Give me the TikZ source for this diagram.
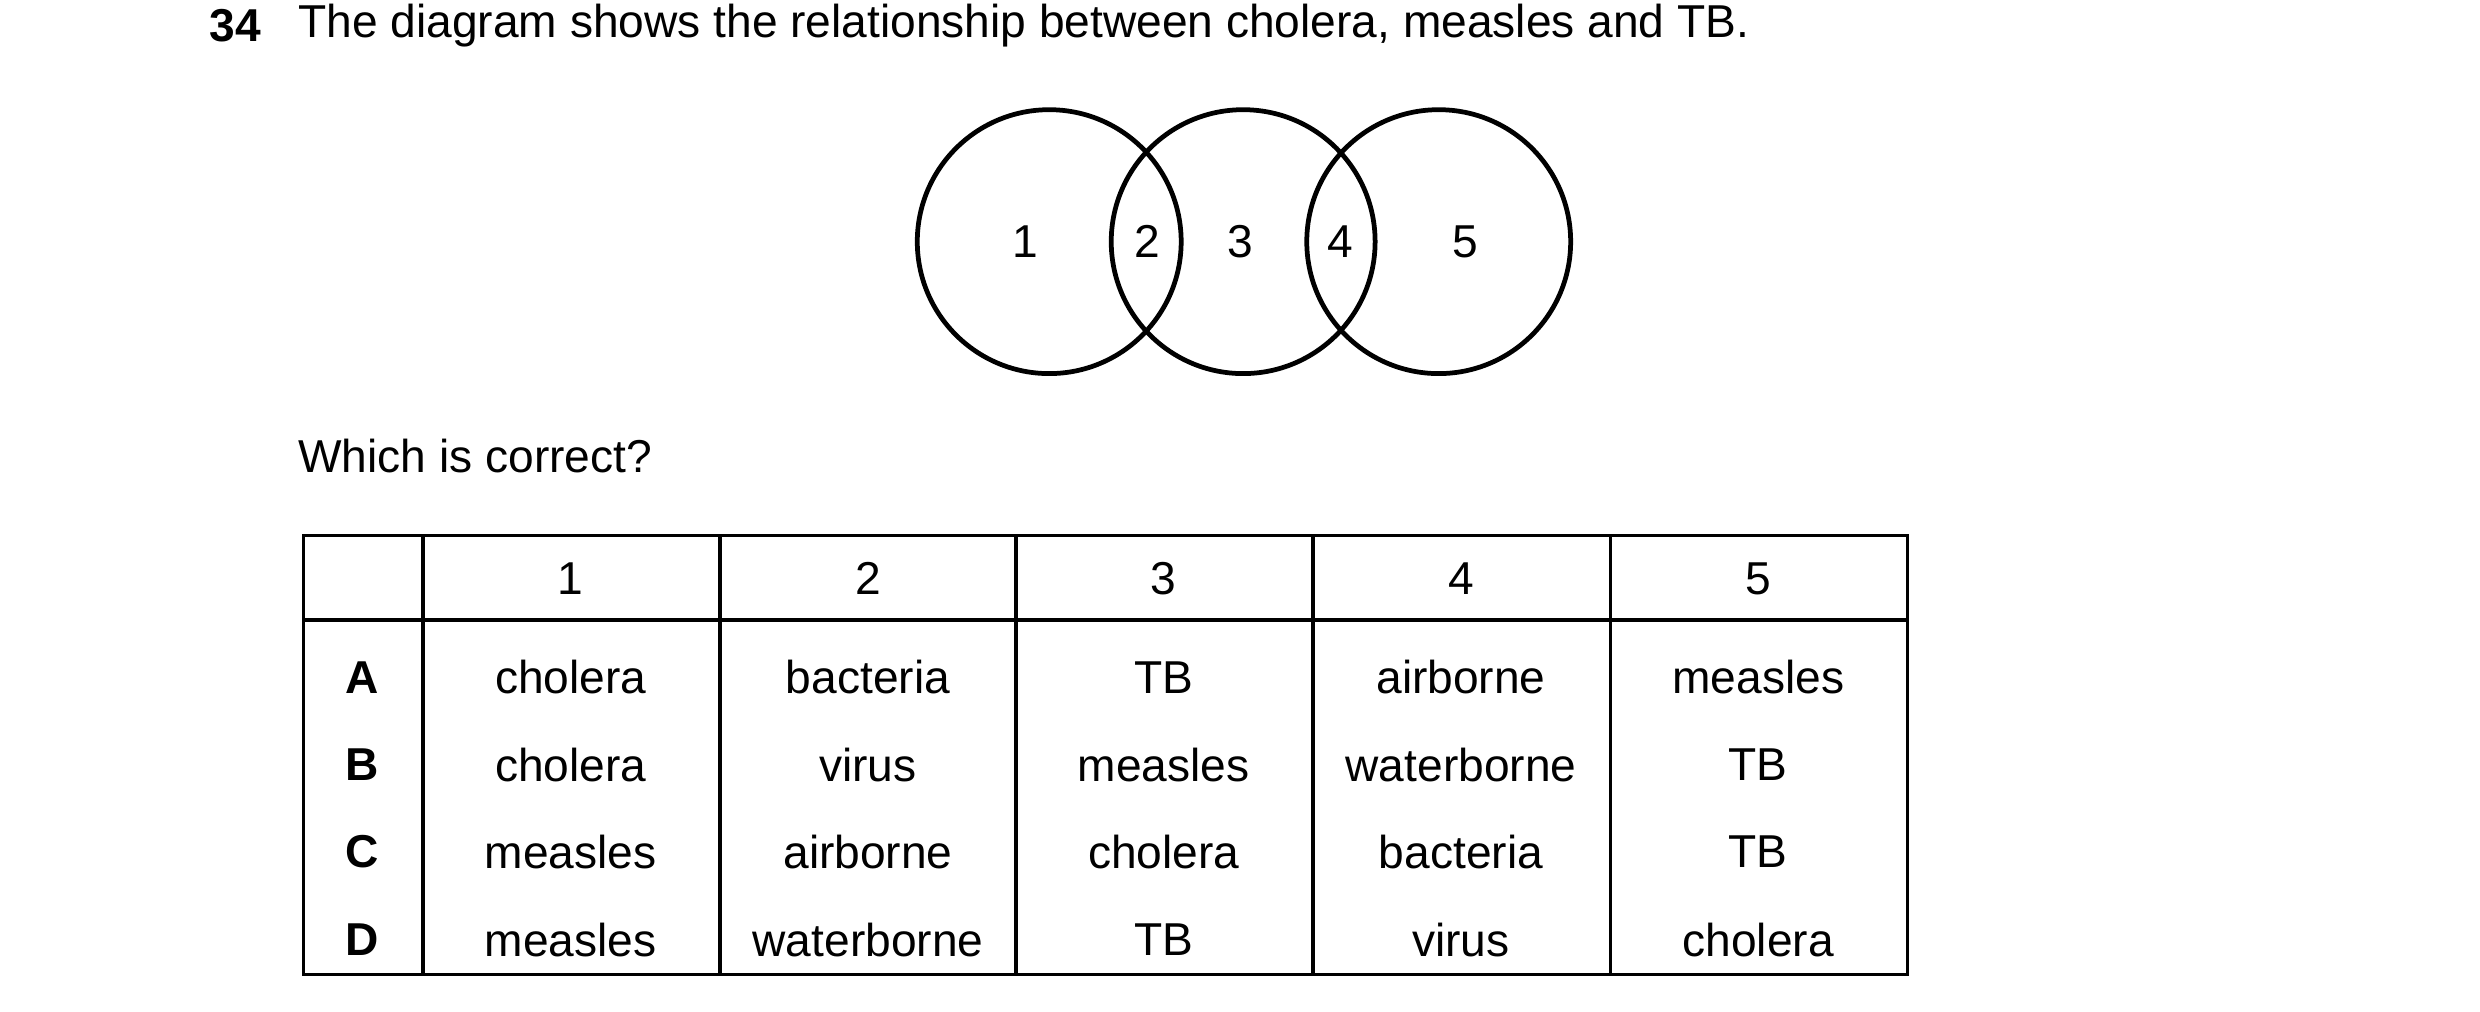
\documentclass[tikz,border=0pt]{standalone}
\usepackage{fontspec}
\setmainfont{Liberation Sans}
\tikzset{%
  ring/.style={draw,line width=0.85pt},
  cell/.style={inner sep=0pt,anchor=center,font=\fontsize{8.25}{10}\selectfont},
  grid/.style={line width=0.6pt}
}
\begin{document}
\begin{tikzpicture}[x=0.01cm,y=-0.01cm]
  \useasboundingbox (0,0) rectangle (1560,636);
  \node[cell,anchor=west,font=\fontsize{8.25}{10}\selectfont\bfseries] (qn) at (131,16) {34};
  \node[cell,anchor=west] (title) at (187,16) {The diagram shows the relationship between cholera, measles and TB.};
  %% circles
  \draw[ring] (660,152) circle (83);
  \draw[ring] (782,152) circle (83);
  \draw[ring] (905,152) circle (83);
  \foreach \n/\x in {1/645,2/722,3/780,4/843,5/922}
    \node[cell] (r\n) at (\x,152) {\n};
  \node[cell,anchor=west] (ask) at (187,287) {Which is correct?};
  %% table
  \draw[grid] (191,337) rectangle (1200,613);
  \draw[grid] (191,390) -- (1200,390);
  \foreach \x in {266,453,639,826,1013}
    \draw[grid] (\x,337) -- (\x,613);
  \foreach \n/\x in {1/359,2/546,3/732,4/919,5/1106}
    \node[cell] (h\n) at (\x,364) {\n};
  \foreach \r/\y/\a/\b/\c/\d/\e in {%
    A/426/cholera/bacteria/TB/airborne/measles,
    B/481/cholera/virus/measles/waterborne/TB,
    C/536/measles/airborne/cholera/bacteria/TB,
    D/591/measles/waterborne/TB/virus/cholera}{%
    \node[cell,font=\fontsize{8.25}{10}\selectfont\bfseries] (\r0) at (228,\y) {\r};
    \node[cell] (\r1) at (359,\y) {\a};
    \node[cell] (\r2) at (546,\y) {\b};
    \node[cell] (\r3) at (732,\y) {\c};
    \node[cell] (\r4) at (919,\y) {\d};
    \node[cell] (\r5) at (1106,\y) {\e};
  }
\end{tikzpicture}
\end{document}
